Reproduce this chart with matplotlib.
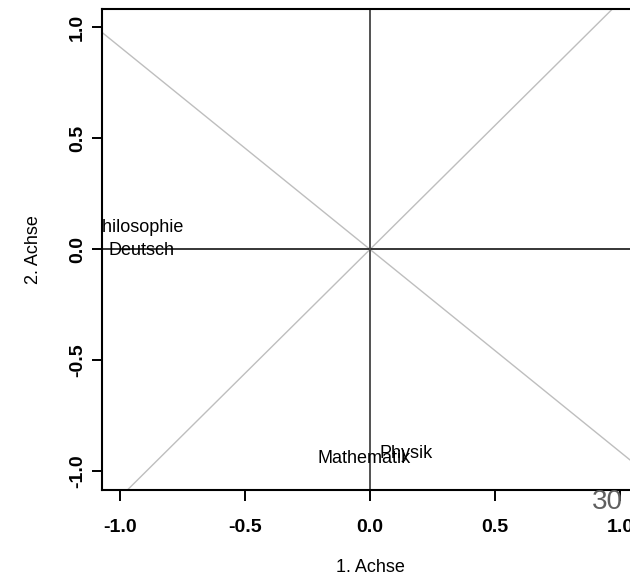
import matplotlib
matplotlib.use("Agg")
import numpy as np
import matplotlib.pyplot as plt

plt.rcParams['font.family'] = ['Liberation Sans', 'DejaVu Sans']

# Faecher-Koordinaten auf den beiden Achsen
subjects = ["Philosophie", "Deutsch", "Mathematik", "Physik"]
axis1 = [-0.93, -0.915, -0.022, 0.146]
axis2 = [0.10, -0.005, -0.94, -0.92]

# Hilfslinien durch den Ursprung
slopes = [1.117, -0.912]

xticks = [-1.0, -0.5, 0.0, 0.5, 1.0]
yticks = [-1.0, -0.5, 0.0, 0.5, 1.0]
xlim = (-1.072, 1.072)
ylim = (-1.084, 1.083)

fig = plt.figure(figsize=(6.30, 5.78), dpi=100)
ax = fig.add_axes([102 / 630, 88 / 578, 536 / 630, 481 / 578])

xs = np.array(xlim)
for s in slopes:
    ax.plot(xs, s * xs, color="#bebebe", linewidth=1.0, zorder=1)

ax.axhline(0, color="black", linewidth=1.1, zorder=2)
ax.axvline(0, color="#444444", linewidth=1.3, zorder=2)

for name, x, y in zip(subjects, axis1, axis2):
    ax.text(x, y, name, fontsize=13, ha="center", va="center", clip_on=True, zorder=3)

ax.set_xlim(*xlim)
ax.set_ylim(*ylim)
ax.set_xticks(xticks)
ax.set_yticks(yticks)
ax.set_xticklabels([f"{t:.1f}" for t in xticks], fontweight="bold", fontsize=14)
ax.set_yticklabels([f"{t:.1f}" for t in yticks], fontweight="bold", fontsize=14,
                   rotation=90, va="center")
ax.tick_params(axis="x", length=8, width=1.4, pad=13)
ax.tick_params(axis="y", length=7.5, width=1.4, pad=4)

for sp in ax.spines.values():
    sp.set_linewidth(1.5)

ax.text(0.5, (490 - 568) / 481, "1. Achse", transform=ax.transAxes,
        ha="center", va="center", fontsize=13, clip_on=False)
ax.text((34 - 102) / 536, 0.5, "2. Achse", transform=ax.transAxes,
        ha="center", va="center", rotation=90, fontsize=13, clip_on=False)

fig.text(607.5 / 630, (578 - 502) / 578, "30", fontsize=20, color="#606060",
         ha="center", va="center")

plt.savefig("out.png", dpi=100)
plt.close()
